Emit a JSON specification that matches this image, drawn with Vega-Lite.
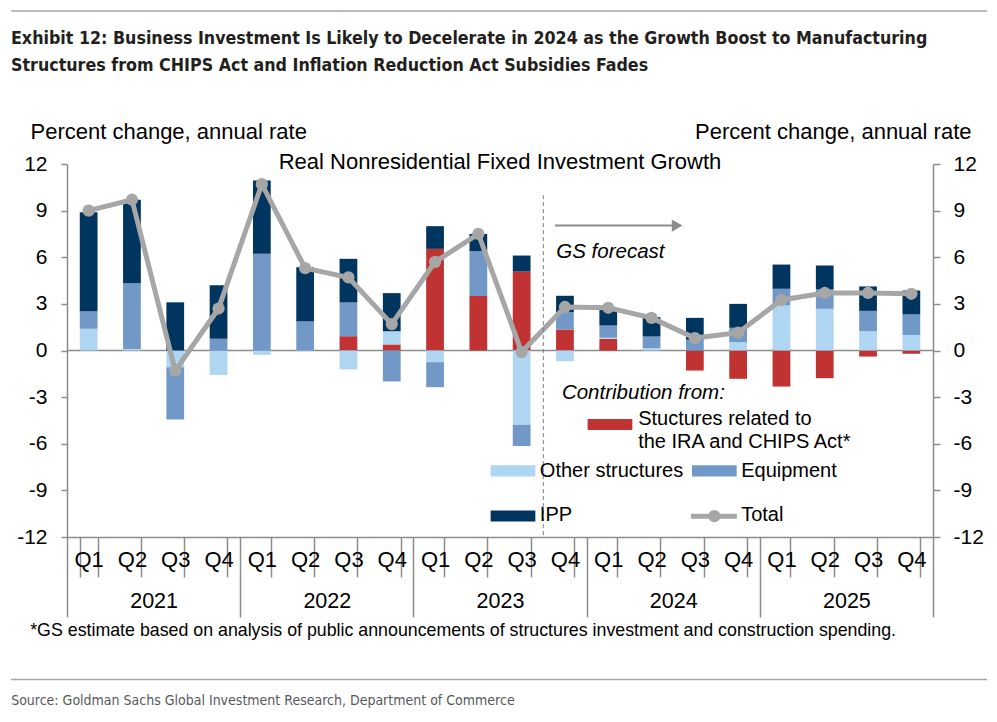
{
  "$schema": "https://vega.github.io/schema/vega-lite/v6.json",
  "description": "Real nonresidential fixed investment growth with contributions by component",
  "width": 866,
  "height": 373,
  "autosize": {"type": "none"},
  "padding": {"left": 67, "top": 164, "right": 64, "bottom": 185},
  "background": "white",
  "title": {
    "text": [
      "Exhibit 12: Business Investment Is Likely to Decelerate in 2024 as the Growth Boost to Manufacturing",
      "Structures from CHIPS Act and Inflation Reduction Act Subsidies Fades"
    ],
    "anchor": "start",
    "frame": "group",
    "dx": -56,
    "dy": 68,
    "font": "Liberation Sans Narrow, DejaVu Sans Condensed, sans-serif",
    "fontSize": 17.7,
    "fontWeight": "bold",
    "color": "#231f20",
    "lineHeight": 27
  },
  "datasets": {
    "parts": [
      {"period": "2021 Q1", "component": "Other structures", "value": 1.4},
      {"period": "2021 Q1", "component": "Equipment", "value": 1.13},
      {"period": "2021 Q1", "component": "IPP", "value": 6.37},
      {"period": "2021 Q2", "component": "Other structures", "value": 0.1},
      {"period": "2021 Q2", "component": "Equipment", "value": 4.23},
      {"period": "2021 Q2", "component": "IPP", "value": 5.37},
      {"period": "2021 Q3", "component": "Other structures", "value": -1.07},
      {"period": "2021 Q3", "component": "Equipment", "value": -3.37},
      {"period": "2021 Q3", "component": "IPP", "value": 3.1},
      {"period": "2021 Q4", "component": "Other structures", "value": -1.57},
      {"period": "2021 Q4", "component": "Equipment", "value": 0.75},
      {"period": "2021 Q4", "component": "IPP", "value": 3.45},
      {"period": "2022 Q1", "component": "Other structures", "value": -0.28},
      {"period": "2022 Q1", "component": "Equipment", "value": 6.22},
      {"period": "2022 Q1", "component": "IPP", "value": 4.72},
      {"period": "2022 Q2", "component": "Other structures", "value": -0.05},
      {"period": "2022 Q2", "component": "Equipment", "value": 1.89},
      {"period": "2022 Q2", "component": "IPP", "value": 3.47},
      {"period": "2022 Q3", "component": "Structures related to the IRA and CHIPS Act", "value": 0.92},
      {"period": "2022 Q3", "component": "Other structures", "value": -1.22},
      {"period": "2022 Q3", "component": "Equipment", "value": 2.17},
      {"period": "2022 Q3", "component": "IPP", "value": 2.81},
      {"period": "2022 Q4", "component": "Structures related to the IRA and CHIPS Act", "value": 0.39},
      {"period": "2022 Q4", "component": "Other structures", "value": 0.85},
      {"period": "2022 Q4", "component": "Equipment", "value": -1.99},
      {"period": "2022 Q4", "component": "IPP", "value": 2.45},
      {"period": "2023 Q1", "component": "Structures related to the IRA and CHIPS Act", "value": 6.54},
      {"period": "2023 Q1", "component": "Other structures", "value": -0.75},
      {"period": "2023 Q1", "component": "Equipment", "value": -1.61},
      {"period": "2023 Q1", "component": "IPP", "value": 1.46},
      {"period": "2023 Q2", "component": "Structures related to the IRA and CHIPS Act", "value": 3.5},
      {"period": "2023 Q2", "component": "Equipment", "value": 2.89},
      {"period": "2023 Q2", "component": "IPP", "value": 1.11},
      {"period": "2023 Q3", "component": "Structures related to the IRA and CHIPS Act", "value": 5.08},
      {"period": "2023 Q3", "component": "Other structures", "value": -4.78},
      {"period": "2023 Q3", "component": "Equipment", "value": -1.37},
      {"period": "2023 Q3", "component": "IPP", "value": 1.03},
      {"period": "2023 Q4", "component": "Structures related to the IRA and CHIPS Act", "value": 1.35},
      {"period": "2023 Q4", "component": "Other structures", "value": -0.69},
      {"period": "2023 Q4", "component": "Equipment", "value": 1.12},
      {"period": "2023 Q4", "component": "IPP", "value": 1.05},
      {"period": "2024 Q1", "component": "Structures related to the IRA and CHIPS Act", "value": 0.75},
      {"period": "2024 Q1", "component": "Other structures", "value": 0.07},
      {"period": "2024 Q1", "component": "Equipment", "value": 0.79},
      {"period": "2024 Q1", "component": "IPP", "value": 1.07},
      {"period": "2024 Q2", "component": "Other structures", "value": 0.15},
      {"period": "2024 Q2", "component": "Equipment", "value": 0.75},
      {"period": "2024 Q2", "component": "IPP", "value": 1.24},
      {"period": "2024 Q3", "component": "Structures related to the IRA and CHIPS Act", "value": -1.29},
      {"period": "2024 Q3", "component": "Equipment", "value": 0.69},
      {"period": "2024 Q3", "component": "IPP", "value": 1.41},
      {"period": "2024 Q4", "component": "Structures related to the IRA and CHIPS Act", "value": -1.82},
      {"period": "2024 Q4", "component": "Other structures", "value": 0.54},
      {"period": "2024 Q4", "component": "Equipment", "value": 0.92},
      {"period": "2024 Q4", "component": "IPP", "value": 1.54},
      {"period": "2025 Q1", "component": "Structures related to the IRA and CHIPS Act", "value": -2.32},
      {"period": "2025 Q1", "component": "Other structures", "value": 2.9},
      {"period": "2025 Q1", "component": "Equipment", "value": 1.07},
      {"period": "2025 Q1", "component": "IPP", "value": 1.56},
      {"period": "2025 Q2", "component": "Structures related to the IRA and CHIPS Act", "value": -1.78},
      {"period": "2025 Q2", "component": "Other structures", "value": 2.68},
      {"period": "2025 Q2", "component": "Equipment", "value": 1.25},
      {"period": "2025 Q2", "component": "IPP", "value": 1.54},
      {"period": "2025 Q3", "component": "Structures related to the IRA and CHIPS Act", "value": -0.39},
      {"period": "2025 Q3", "component": "Other structures", "value": 1.24},
      {"period": "2025 Q3", "component": "Equipment", "value": 1.31},
      {"period": "2025 Q3", "component": "IPP", "value": 1.57},
      {"period": "2025 Q4", "component": "Structures related to the IRA and CHIPS Act", "value": -0.21},
      {"period": "2025 Q4", "component": "Other structures", "value": 1.0},
      {"period": "2025 Q4", "component": "Equipment", "value": 1.32},
      {"period": "2025 Q4", "component": "IPP", "value": 1.54}
    ],
    "total": [
      {"period": "2021 Q1", "total": 9.0},
      {"period": "2021 Q2", "total": 9.7},
      {"period": "2021 Q3", "total": -1.3},
      {"period": "2021 Q4", "total": 2.7},
      {"period": "2022 Q1", "total": 10.7},
      {"period": "2022 Q2", "total": 5.3},
      {"period": "2022 Q3", "total": 4.7},
      {"period": "2022 Q4", "total": 1.7},
      {"period": "2023 Q1", "total": 5.7},
      {"period": "2023 Q2", "total": 7.5},
      {"period": "2023 Q3", "total": -0.1},
      {"period": "2023 Q4", "total": 2.8},
      {"period": "2024 Q1", "total": 2.75},
      {"period": "2024 Q2", "total": 2.1},
      {"period": "2024 Q3", "total": 0.8},
      {"period": "2024 Q4", "total": 1.15},
      {"period": "2025 Q1", "total": 3.25},
      {"period": "2025 Q2", "total": 3.7},
      {"period": "2025 Q3", "total": 3.7},
      {"period": "2025 Q4", "total": 3.65}
    ],
    "years": [
      {"year": "2021"}, {"year": "2022"}, {"year": "2023"}, {"year": "2024"}, {"year": "2025"}
    ]
  },
  "layer": [
    {
      "data": {"values": [{"v": 0}]},
      "mark": {"type": "rule", "color": "#8c8c8c", "strokeWidth": 1.5},
      "encoding": {
        "y": {"field": "v", "type": "quantitative", "scale": {"domain": [-12, 12], "nice": false}, "axis": null}
      }
    },
    {
      "layer": [
        {
          "data": {"name": "parts"},
          "transform": [
            {"calculate": "datum.component === 'IPP' ? 3 : datum.component === 'Equipment' ? 2 : datum.component === 'Other structures' ? 1 : 0", "as": "stack_rank"}
          ],
          "mark": {"type": "bar"},
          "encoding": {
            "x": {
              "field": "period",
              "type": "nominal",
              "scale": {"paddingInner": 0.59, "paddingOuter": 0.295},
              "axis": {
                "orient": "bottom",
                "title": null,
                "labelExpr": "split(datum.value, ' ')[1]",
                "labelAngle": 0,
                "tickBand": "extent",
                "tickSize": 40,
                "labelPadding": -28,
                "labelFontSize": 22,
                "labelColor": "#000",
                "labelFont": "Liberation Sans",
                "domainColor": "#8c8c8c",
                "domainWidth": 1.5,
                "tickColor": "#8c8c8c",
                "tickWidth": 1.5
              }
            },
            "y": {
              "field": "value",
              "type": "quantitative",
              "stack": "zero",
              "scale": {"domain": [-12, 12], "nice": false},
              "axis": {
                "orient": "left",
                "values": [-12, -9, -6, -3, 0, 3, 6, 9, 12],
                "labelExpr": "'' + datum.value",
                "grid": false,
                "title": "Percent change, annual rate",
                "titleAngle": 0,
                "titleAlign": "left",
                "titleBaseline": "alphabetic",
                "titleX": -37,
                "titleY": -26,
                "titleFont": "Liberation Sans",
                "titleFontSize": 22,
                "titleFontWeight": "normal",
                "titleColor": "#000",
                "labelFont": "Liberation Sans",
                "labelFontSize": 21,
                "labelColor": "#000",
                "labelPadding": 14,
                "tickSize": 6,
                "tickColor": "#8c8c8c",
                "tickWidth": 1.5,
                "domainColor": "#8c8c8c",
                "domainWidth": 1.5
              }
            },
            "color": {
              "field": "component",
              "type": "nominal",
              "scale": {
                "domain": ["Structures related to the IRA and CHIPS Act", "Other structures", "Equipment", "IPP"],
                "range": ["#c13232", "#aed5f1", "#7198c6", "#00355f"]
              },
              "legend": null
            },
            "order": {"field": "stack_rank", "type": "quantitative"}
          }
        },
        {
          "data": {"name": "total"},
          "mark": {
            "type": "line",
            "color": "#a6a6a6",
            "strokeWidth": 5,
            "point": {"filled": true, "size": 150, "color": "#a6a6a6", "opacity": 1}
          },
          "encoding": {
            "x": {"field": "period", "type": "nominal"},
            "y": {"field": "total", "type": "quantitative"}
          }
        }
      ]
    },
    {
      "data": {"name": "years"},
      "mark": {"type": "tick", "opacity": 0},
      "encoding": {
        "x": {
          "field": "year",
          "type": "ordinal",
          "scale": {"paddingInner": 0, "paddingOuter": 0},
          "axis": {
            "orient": "bottom",
            "title": null,
            "labelAngle": 0,
            "domain": false,
            "tickBand": "extent",
            "tickSize": 80,
            "labelPadding": -27,
            "labelFontSize": 21.5,
            "labelColor": "#000",
            "labelFont": "Liberation Sans",
            "tickColor": "#8c8c8c",
            "tickWidth": 1.5
          }
        },
        "y": {
          "datum": 0,
          "type": "quantitative",
          "scale": {"domain": [-12, 12], "nice": false},
          "axis": {
            "orient": "right",
            "values": [-12, -9, -6, -3, 0, 3, 6, 9, 12],
            "labelExpr": "'' + datum.value",
            "grid": false,
            "title": "Percent change, annual rate",
            "titleAngle": 0,
            "titleAlign": "right",
            "titleBaseline": "alphabetic",
            "titleX": 38,
            "titleY": -26,
            "titleFont": "Liberation Sans",
            "titleFontSize": 22,
            "titleFontWeight": "normal",
            "titleColor": "#000",
            "labelFont": "Liberation Sans",
            "labelFontSize": 21,
            "labelColor": "#000",
            "labelPadding": 13,
            "tickSize": 7,
            "tickColor": "#8c8c8c",
            "tickWidth": 1.5,
            "domainColor": "#8c8c8c",
            "domainWidth": 1.5
          }
        }
      }
    },
    {
      "encoding": {
        "x": {"field": "x", "type": "quantitative", "scale": {"domain": [0, 20], "nice": false, "zero": false}, "axis": null},
        "y": {"field": "y", "type": "quantitative", "scale": {"domain": [-12, 12], "nice": false}, "axis": null}
      },
      "layer": [
        {
          "data": {"values": [
            {"x": -1.29, "x2": 21.25, "y": 21.84},
            {"x": -1.29, "x2": 21.25, "y": -21.17}
          ]},
          "mark": {"type": "rule", "color": "#a6a6a6", "strokeWidth": 1.5},
          "encoding": {"x2": {"field": "x2"}}
        },
        {
          "data": {"values": [{"x": 11, "y": 10, "y2": -12}]},
          "mark": {"type": "rule", "color": "#7f7f7f", "strokeWidth": 1, "strokeDash": [4, 3]},
          "encoding": {"y2": {"field": "y2"}}
        },
        {
          "data": {"values": [{"x": 11.27, "x2": 13.97, "y": 8.04}]},
          "mark": {"type": "rule", "color": "#8c8c8c", "strokeWidth": 2},
          "encoding": {"x2": {"field": "x2"}}
        },
        {
          "data": {"values": [{"x": 14.09, "y": 8.04}]},
          "mark": {"type": "point", "shape": "triangle-right", "size": 150, "filled": true, "color": "#8c8c8c", "opacity": 1},
          "encoding": {}
        },
        {
          "data": {"values": [
            {"x": 12.54, "y": -4.76, "component": "Structures related to the IRA and CHIPS Act"},
            {"x": 10.3, "y": -7.75, "component": "Other structures"},
            {"x": 14.95, "y": -7.75, "component": "Equipment"},
            {"x": 10.3, "y": -10.65, "component": "IPP"}
          ]},
          "mark": {"type": "point", "shape": "M-1,-0.25H1V0.25H-1Z", "size": 2000, "filled": true, "opacity": 1},
          "encoding": {"color": {"field": "component", "type": "nominal", "legend": null}}
        },
        {
          "data": {"values": [{"x": 14.41, "x2": 15.47, "y": -10.66}]},
          "mark": {"type": "rule", "color": "#a6a6a6", "strokeWidth": 5},
          "encoding": {"x2": {"field": "x2"}}
        },
        {
          "data": {"values": [{"x": 14.95, "y": -10.66}]},
          "mark": {"type": "point", "filled": true, "size": 150, "color": "#a6a6a6", "opacity": 1},
          "encoding": {}
        },
        {
          "data": {"values": [
            {"x": 10, "y": 11.7, "label": "Real Nonresidential Fixed Investment Growth"}
          ]},
          "mark": {"type": "text", "align": "center", "baseline": "alphabetic", "font": "Liberation Sans", "fontSize": 22, "color": "#000"},
          "encoding": {"text": {"field": "label"}}
        },
        {
          "data": {"values": [
            {"x": 13.19, "y": -4.82, "label": "Stuctures related to"},
            {"x": 13.19, "y": -6.3, "label": "the IRA and CHIPS Act*"},
            {"x": 10.92, "y": -8.17, "label": "Other structures"},
            {"x": 15.57, "y": -8.17, "label": "Equipment"},
            {"x": 10.92, "y": -11.0, "label": "IPP"},
            {"x": 15.57, "y": -11.0, "label": "Total"}
          ]},
          "mark": {"type": "text", "align": "left", "baseline": "alphabetic", "font": "Liberation Sans", "fontSize": 20, "color": "#000"},
          "encoding": {"text": {"field": "label"}}
        },
        {
          "data": {"values": [
            {"x": 11.3, "y": 5.98, "label": "GS forecast"},
            {"x": 11.43, "y": -3.15, "label": "Contribution from:"}
          ]},
          "mark": {"type": "text", "align": "left", "baseline": "alphabetic", "font": "Liberation Sans", "fontSize": 20.5, "fontStyle": "italic", "color": "#000"},
          "encoding": {"text": {"field": "label"}}
        },
        {
          "data": {"values": [
            {"x": -0.85, "y": -18.34, "label": "*GS estimate based on analysis of public announcements of structures investment and construction spending."}
          ]},
          "mark": {"type": "text", "align": "left", "baseline": "alphabetic", "font": "Liberation Sans", "fontSize": 17.8, "color": "#000"},
          "encoding": {"text": {"field": "label"}}
        },
        {
          "data": {"values": [
            {"x": -1.29, "y": -22.84, "label": "Source: Goldman Sachs Global Investment Research, Department of Commerce"}
          ]},
          "mark": {"type": "text", "align": "left", "baseline": "alphabetic", "font": "Liberation Sans Narrow, DejaVu Sans Condensed, sans-serif", "fontSize": 14, "color": "#58595b"},
          "encoding": {"text": {"field": "label"}}
        }
      ]
    }
  ],
  "resolve": {"scale": {"x": "independent", "y": "independent"}},
  "config": {
    "view": {"stroke": null},
    "font": "Liberation Sans"
  }
}
